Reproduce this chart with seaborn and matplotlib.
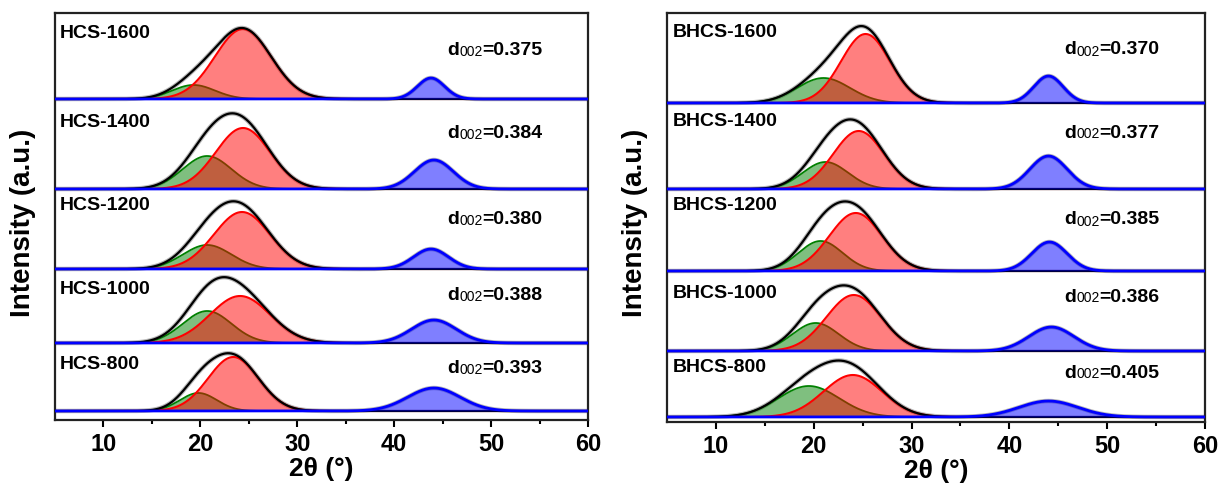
import numpy as np
import matplotlib
matplotlib.use("Agg")
import matplotlib.pyplot as plt
import seaborn as sns

# ---------------- data ----------------
x_ticks = [10, 20, 30, 40, 50, 60]

hcs_labels = ["HCS-1600", "HCS-1400", "HCS-1200", "HCS-1000", "HCS-800"]
hcs_d002 = ["0.375", "0.384", "0.380", "0.388", "0.393"]
hcs_green_center = [19.3, 20.7, 20.7, 20.7, 19.8]
hcs_green_height = [14, 33, 24, 32, 18]
hcs_green_sigma = [2.2, 2.5, 2.5, 2.5, 1.9]
hcs_red_center = [24.4, 24.4, 24.3, 24.1, 23.4]
hcs_red_height = [70, 61, 57, 47, 54]
hcs_red_sigma = [2.9, 2.8, 2.9, 3.1, 2.6]
hcs_blue_center = [43.8, 44.1, 43.8, 44.1, 44.1]
hcs_blue_height = [21, 29, 20, 23, 23]
hcs_blue_sigma = [1.4, 2.0, 1.8, 2.3, 2.7]

bhcs_labels = ["BHCS-1600", "BHCS-1400", "BHCS-1200", "BHCS-1000", "BHCS-800"]
bhcs_d002 = ["0.370", "0.377", "0.385", "0.386", "0.405"]
bhcs_green_center = [21.0, 21.2, 20.7, 20.2, 19.5]
bhcs_green_height = [25, 27, 30, 28, 31]
bhcs_green_sigma = [2.7, 2.3, 2.25, 2.35, 3.1]
bhcs_red_center = [25.3, 24.6, 24.3, 24.1, 24.0]
bhcs_red_height = [69, 58, 58, 56, 42]
bhcs_red_sigma = [2.5, 2.6, 2.7, 2.8, 3.0]
bhcs_blue_center = [44.0, 44.0, 44.1, 44.3, 44.0]
bhcs_blue_height = [27, 33, 29, 24, 16]
bhcs_blue_sigma = [1.5, 1.9, 1.8, 2.3, 3.0]

# ---------------- layout ----------------
hcs_offsets = [321, 231, 151, 77, 9]
hcs_label_dy = [66, 67, 64, 54, 47]
hcs_d_dy = [49, 56, 50, 48, 43]
bhcs_offsets = [319, 233, 151, 71, 5]
bhcs_label_dy = [70, 67, 65, 58, 49]
bhcs_d_dy = [53, 56, 51, 54, 44]

sns.set_theme(style="ticks")
plt.rcParams['font.family'] = ['Liberation Sans', 'DejaVu Sans']
plt.rcParams['text.color'] = 'black'
plt.rcParams['axes.labelcolor'] = 'black'
plt.rcParams['xtick.color'] = 'black'

fig = plt.figure(figsize=(12.23, 4.9), dpi=100)
ax1 = fig.add_axes([55 / 1223, 70 / 490, 533 / 1223, 407 / 490])
ax2 = fig.add_axes([667 / 1223, 68 / 490, 538 / 1223, 409 / 490])

xgrid = np.linspace(5, 60, 1101)


def peak(c, h, s):
    return h * np.exp(-(xgrid - c) ** 2 / (2 * s ** 2))


def draw(ax, labels, dvals, gc, gh, gs, rc, rh, rs, bc, bh, bs,
         offsets, label_dy, d_dy, label_x, d_x, ytop):
    for i in range(len(labels)):
        base = offsets[i]
        g = peak(gc[i], gh[i], gs[i])
        r = peak(rc[i], rh[i], rs[i])
        b = peak(bc[i], bh[i], bs[i])
        ax.plot(xgrid, base + g + r + b, color="#b8b8b8", lw=3.2, zorder=1)
        ax.fill_between(xgrid, base, base + g, color=(0, 0.5, 0), alpha=0.5, lw=0, zorder=2)
        sns.lineplot(x=xgrid, y=base + g, ax=ax, color=(0, 0.5, 0), lw=1.3, zorder=3)
        ax.fill_between(xgrid, base, base + r, color=(1, 0, 0), alpha=0.5, lw=0, zorder=4)
        sns.lineplot(x=xgrid, y=base + r, ax=ax, color=(1, 0, 0), lw=1.5, zorder=5)
        sns.lineplot(x=xgrid, y=base + g + r, ax=ax, color="black", lw=1.6, zorder=6)
        ax.fill_between(xgrid, base, base + b, color=(0, 0, 1), alpha=0.5, lw=0, zorder=7)
        sns.lineplot(x=xgrid, y=base + b, ax=ax, color=(0, 0, 1), lw=2.0, zorder=8)

        ax.text(label_x, base + label_dy[i], labels[i], fontsize=14, fontweight="bold",
                va="center", ha="left", zorder=10)
        t1 = ax.text(d_x, base + d_dy[i], "d", fontsize=14, fontweight="bold",
                     va="center", ha="left", zorder=10)
        t2 = ax.annotate("002", xy=(1, 0), xycoords=t1, va="bottom", ha="left",
                         fontsize=10, zorder=10)
        ax.annotate("=" + dvals[i], xy=(1, 0), xycoords=t2, va="bottom", ha="left",
                    fontsize=14, fontweight="bold", zorder=10)

    ax.set_xlim(5, 60)
    ax.set_ylim(0, ytop)
    ax.set_xticks(x_ticks)
    ax.set_xticks([15, 25, 35, 45, 55], minor=True)
    ax.set_yticks([])
    ax.tick_params(axis="x", which="major", direction="out", length=5, width=1.5,
                   labelsize=17, pad=4, colors="black")
    ax.tick_params(axis="x", which="minor", direction="out", length=3, width=1.5)
    for lbl in ax.get_xticklabels():
        lbl.set_fontweight("bold")
    for sp in ax.spines.values():
        sp.set_visible(True)
        sp.set_linewidth(1.6)
        sp.set_color("#222222")
    ax.set_xlabel("2θ (°)", fontsize=19, fontweight="bold", labelpad=1)
    ax.set_ylabel("Intensity (a.u.)", fontsize=20, fontweight="bold")


draw(ax1, hcs_labels, hcs_d002, hcs_green_center, hcs_green_height, hcs_green_sigma,
     hcs_red_center, hcs_red_height, hcs_red_sigma, hcs_blue_center, hcs_blue_height,
     hcs_blue_sigma, hcs_offsets, hcs_label_dy, hcs_d_dy, 5.5, 45.5, 407)
draw(ax2, bhcs_labels, bhcs_d002, bhcs_green_center, bhcs_green_height, bhcs_green_sigma,
     bhcs_red_center, bhcs_red_height, bhcs_red_sigma, bhcs_blue_center, bhcs_blue_height,
     bhcs_blue_sigma, bhcs_offsets, bhcs_label_dy, bhcs_d_dy, 5.6, 45.6, 409)

ax1.yaxis.set_label_coords(-0.036, 0.484)
ax2.yaxis.set_label_coords(-0.035, 0.487)

fig.savefig("out.png", dpi=100)
